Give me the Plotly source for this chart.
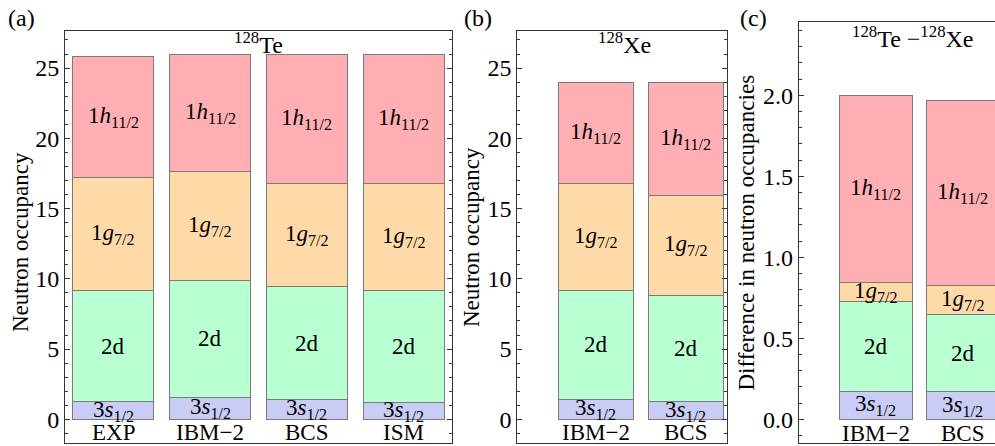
import numpy as np
import plotly.graph_objects as go

# ---------------- data ----------------
orbitals = ["3s", "2d", "1g", "1h"]
orbital_labels = ["3<i>s</i><sub>1/2</sub>", "2d", "1<i>g</i><sub>7/2</sub>", "1<i>h</i><sub>11/2</sub>"]
orbital_colors = ["#C9CCF5", "#B8FFD2", "#FFDAA8", "#FFAFB4"]

categories_te = ["EXP", "IBM−2", "BCS", "ISM"]
te_3s = [1.25, 1.57, 1.42, 1.21]
te_2d = [7.93, 8.30, 8.02, 7.94]
te_1g = [8.02, 7.78, 7.33, 7.60]
te_1h = [8.65, 8.35, 9.23, 9.25]

categories_xe = ["IBM−2", "BCS"]
xe_3s = [1.42, 1.25]
xe_2d = [7.76, 7.55]
xe_1g = [7.62, 7.15]
xe_1h = [7.20, 8.05]

categories_diff = ["IBM−2", "BCS"]
diff_3s = [0.175, 0.170]
diff_2d = [0.551, 0.478]
diff_1g = [0.120, 0.181]
diff_1h = [1.154, 1.141]

panel_titles = ["<sup>128</sup>Te", "<sup>128</sup>Xe", "<sup>128</sup>Te −<sup>128</sup>Xe"]
panel_tags = ["(a)", "(b)", "(c)"]
ylabels = ["Neutron occupancy", "Neutron occupancy", "Difference in neutron occupancies"]

# ---------------- figure ----------------
FONT = "Liberation Serif"
W, H = 995, 446
fig = go.Figure()

panels = [
    dict(cats=categories_te, vals=[te_3s, te_2d, te_1g, te_1h], xa="x", ya="y"),
    dict(cats=categories_xe, vals=[xe_3s, xe_2d, xe_1g, xe_1h], xa="x2", ya="y2"),
    dict(cats=categories_diff, vals=[diff_3s, diff_2d, diff_1g, diff_1h], xa="x3", ya="y3"),
]
cat_label_y = [-0.95, -0.95, -0.086]

annotations = []
for pi, p in enumerate(panels):
    base = np.zeros(len(p["cats"]))
    for oi in range(4):
        v = np.array(p["vals"][oi], dtype=float)
        fig.add_trace(go.Bar(
            x=p["cats"], y=v, xaxis=p["xa"], yaxis=p["ya"], width=0.835,
            marker=dict(color=orbital_colors[oi], line=dict(color="#7a7a7a", width=1)),
            showlegend=False, hoverinfo="skip"))
        centers = base + v / 2
        for c, yc in zip(p["cats"], centers):
            annotations.append(dict(x=c, y=yc, xref=p["xa"], yref=p["ya"], text=orbital_labels[oi],
                                    showarrow=False, font=dict(family=FONT, size=23, color="black"),
                                    xanchor="center", yanchor="middle"))
        base = base + v
    for c in p["cats"]:
        annotations.append(dict(x=c, y=cat_label_y[pi], xref=p["xa"], yref=p["ya"], text=c,
                                showarrow=False, font=dict(family=FONT, size=23, color="black"),
                                xanchor="center", yanchor="middle"))

# panel geometry (pixels)
dom_x = [(65, 452), (517.3, 727.3), (798.7, 995)]
dom_top = [31, 30.7, 22.3]
bottom = 443
xr = [[-0.5, 3.5], [-0.87, 1.46], [-0.885, 1.37]]
yr = [[-1.687, 27.64], [-1.687, 27.66], [-0.146, 2.451]]

axis_color = "#333333"
layout = dict(width=W, height=H, margin=dict(l=0, r=0, t=0, b=0),
              paper_bgcolor="white", plot_bgcolor="white", barmode="stack", bargap=0.17,
              font=dict(family=FONT))
for i in range(3):
    sx = "" if i == 0 else str(i + 1)
    layout["xaxis" + sx] = dict(domain=[dom_x[i][0] / W, min(dom_x[i][1] / W, 1.0)],
                                anchor="y" + sx, type="category", range=xr[i],
                                showticklabels=False, ticks="", showgrid=False,
                                showline=True, mirror=True, linecolor=axis_color, linewidth=1)
    ymajor = 5 if i < 2 else 0.5
    yminor = 1 if i < 2 else 0.1
    layout["yaxis" + sx] = dict(domain=[(H - bottom) / H, (H - dom_top[i]) / H],
                                anchor="x" + sx, range=yr[i], dtick=ymajor, tick0=0,
                                tickformat="d" if i < 2 else ".1f",
                                ticks="inside", ticklen=5, tickcolor=axis_color,
                                minor=dict(dtick=yminor, ticks="inside", ticklen=3, tickcolor=axis_color, showgrid=False),
                                showgrid=False, zeroline=False,
                                showline=True, mirror="ticks" if i < 2 else False,
                                linecolor=axis_color, linewidth=1,
                                tickfont=dict(family=FONT, size=24, color="black"))

# titles inside panels
title_x = [258.5 / W, 624 / W, 913 / W]
title_y = [43, 43, 37]
for i in range(3):
    annotations.append(dict(x=title_x[i], y=(H - title_y[i]) / H, xref="paper", yref="paper",
                            text=panel_titles[i], showarrow=False,
                            font=dict(family=FONT, size=24, color="black"),
                            xanchor="center", yanchor="middle"))
# panel tags
tag_x = [21, 478, 753]
for i in range(3):
    annotations.append(dict(x=tag_x[i] / W, y=(H - 18) / H, xref="paper", yref="paper",
                            text=panel_tags[i], showarrow=False,
                            font=dict(family=FONT, size=24, color="black"),
                            xanchor="center", yanchor="middle"))
# y labels
ylab_x = [20, 471, 747]
ylab_y = [242, 237, 232.6]
for i in range(3):
    annotations.append(dict(x=ylab_x[i] / W, y=(H - ylab_y[i]) / H, xref="paper", yref="paper",
                            text=ylabels[i], showarrow=False, textangle=-90,
                            font=dict(family=FONT, size=23, color="black"),
                            xanchor="center", yanchor="middle"))

layout["annotations"] = annotations
fig.update_layout(**layout)
fig.write_html("out.html")
